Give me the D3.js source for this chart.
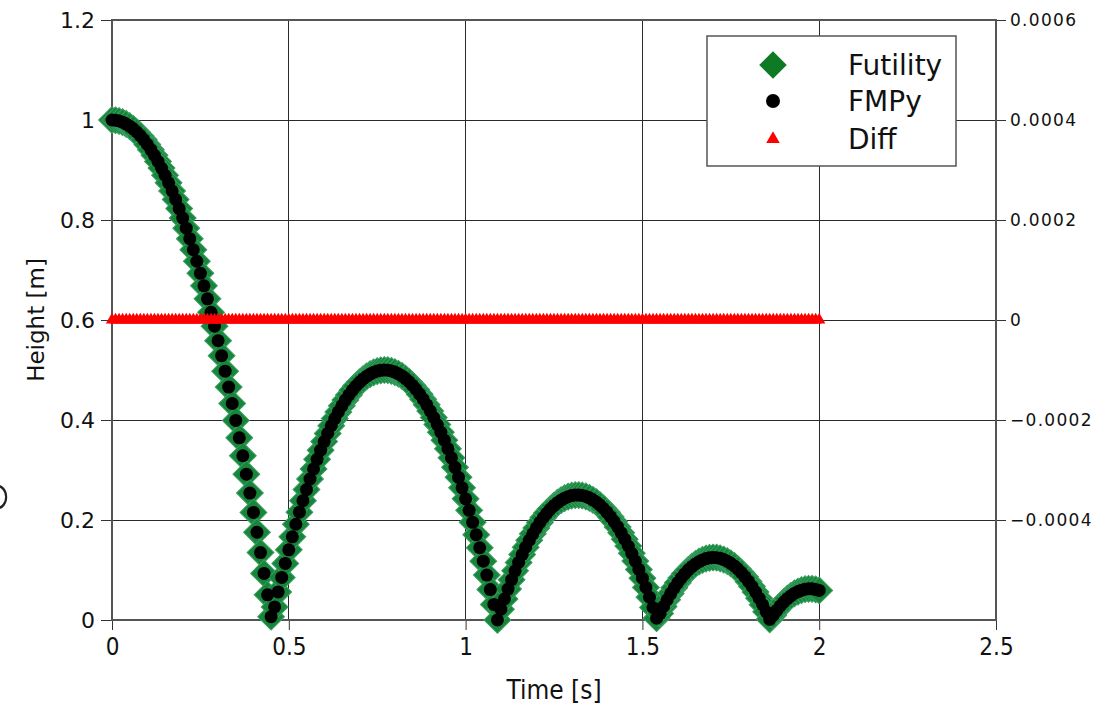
<!DOCTYPE html>
<html>
<head>
<meta charset="utf-8">
<script src="https://cdn.jsdelivr.net/npm/d3@7"></script>
<style>
  html, body { margin: 0; padding: 0; background: #fff; }
  svg { display: block; }
  text { font-family: "DejaVu Sans", "Liberation Sans", sans-serif; fill: #111; }
  .cond { font-stretch: condensed; font-family: "DejaVu Sans Condensed", "DejaVu Sans", sans-serif; }
</style>
</head>
<body>
<svg id="chart" width="1114" height="705"></svg>
<script>
// Simulation output times [s] (output interval 0.01 s)
const timeS = [
  0.00,0.01,0.02,0.03,0.04,0.05,0.06,0.07,0.08,0.09,
  0.10,0.11,0.12,0.13,0.14,0.15,0.16,0.17,0.18,0.19,
  0.20,0.21,0.22,0.23,0.24,0.25,0.26,0.27,0.28,0.29,
  0.30,0.31,0.32,0.33,0.34,0.35,0.36,0.37,0.38,0.39,
  0.40,0.41,0.42,0.43,0.44,0.45,0.46,0.47,0.48,0.49,
  0.50,0.51,0.52,0.53,0.54,0.55,0.56,0.57,0.58,0.59,
  0.60,0.61,0.62,0.63,0.64,0.65,0.66,0.67,0.68,0.69,
  0.70,0.71,0.72,0.73,0.74,0.75,0.76,0.77,0.78,0.79,
  0.80,0.81,0.82,0.83,0.84,0.85,0.86,0.87,0.88,0.89,
  0.90,0.91,0.92,0.93,0.94,0.95,0.96,0.97,0.98,0.99,
  1.00,1.01,1.02,1.03,1.04,1.05,1.06,1.07,1.08,1.09,
  1.10,1.11,1.12,1.13,1.14,1.15,1.16,1.17,1.18,1.19,
  1.20,1.21,1.22,1.23,1.24,1.25,1.26,1.27,1.28,1.29,
  1.30,1.31,1.32,1.33,1.34,1.35,1.36,1.37,1.38,1.39,
  1.40,1.41,1.42,1.43,1.44,1.45,1.46,1.47,1.48,1.49,
  1.50,1.51,1.52,1.53,1.54,1.55,1.56,1.57,1.58,1.59,
  1.60,1.61,1.62,1.63,1.64,1.65,1.66,1.67,1.68,1.69,
  1.70,1.71,1.72,1.73,1.74,1.75,1.76,1.77,1.78,1.79,
  1.80,1.81,1.82,1.83,1.84,1.85,1.86,1.87,1.88,1.89,
  1.90,1.91,1.92,1.93,1.94,1.95,1.96,1.97,1.98,1.99,
  2.00
];

// Ball height [m] reported by Futility
const heightFutility = [
  1.0000,0.9995,0.9980,0.9956,0.9922,0.9877,0.9823,0.9760,0.9686,0.9603,
  0.9510,0.9406,0.9294,0.9171,0.9039,0.8896,0.8744,0.8582,0.8411,0.8229,
  0.8038,0.7837,0.7626,0.7405,0.7175,0.6934,0.6684,0.6424,0.6154,0.5875,
  0.5586,0.5286,0.4977,0.4658,0.4330,0.3991,0.3643,0.3285,0.2917,0.2539,
  0.2152,0.1755,0.1348,0.0931,0.0504,0.0067,0.0262,0.0562,0.0852,0.1132,
  0.1403,0.1664,0.1915,0.2156,0.2387,0.2609,0.2820,0.3022,0.3214,0.3397,
  0.3569,0.3732,0.3885,0.4028,0.4161,0.4284,0.4398,0.4502,0.4596,0.4680,
  0.4754,0.4819,0.4873,0.4918,0.4953,0.4979,0.4994,0.5000,0.4996,0.4982,
  0.4958,0.4925,0.4881,0.4828,0.4765,0.4692,0.4610,0.4517,0.4415,0.4303,
  0.4181,0.4050,0.3908,0.3757,0.3596,0.3425,0.3244,0.3054,0.2853,0.2643,
  0.2423,0.2194,0.1954,0.1705,0.1445,0.1176,0.0898,0.0609,0.0311,0.0002,
  0.0215,0.0422,0.0619,0.0806,0.0984,0.1151,0.1309,0.1457,0.1595,0.1723,
  0.1842,0.1951,0.2050,0.2139,0.2218,0.2287,0.2347,0.2397,0.2437,0.2467,
  0.2488,0.2498,0.2499,0.2490,0.2471,0.2443,0.2404,0.2356,0.2298,0.2230,
  0.2153,0.2065,0.1968,0.1861,0.1744,0.1617,0.1480,0.1334,0.1178,0.1012,
  0.0836,0.0651,0.0455,0.0250,0.0035,0.0128,0.0272,0.0405,0.0529,0.0643,
  0.0747,0.0842,0.0926,0.1001,0.1066,0.1121,0.1167,0.1202,0.1228,0.1244,
  0.1250,0.1246,0.1233,0.1209,0.1176,0.1133,0.1081,0.1018,0.0946,0.0863,
  0.0771,0.0670,0.0558,0.0437,0.0305,0.0164,0.0014,0.0097,0.0194,0.0281,
  0.0358,0.0426,0.0483,0.0531,0.0569,0.0597,0.0616,0.0624,0.0623,0.0612,
  0.0591
];

// Ball height [m] reported by FMPy (identical to Futility at every output step)
const heightFMPy = heightFutility.slice();

// Difference between the two tools [m], plotted against the right axis
const heightDiff = heightFutility.map((h, i) => h - heightFMPy[i]);

const timeTicks = [0, 0.5, 1, 1.5, 2, 2.5];
const heightTicks = [0, 0.2, 0.4, 0.6, 0.8, 1, 1.2];
const diffTicks = [-0.0004, -0.0002, 0, 0.0002, 0.0004, 0.0006];
const legendLabels = ["Futility", "FMPy", "Diff"];

const W = 1114, H = 705;
const plot = { left: 112, right: 996, top: 20, bottom: 620 };

const svg = d3.select("#chart");
svg.append("rect").attr("width", W).attr("height", H).attr("fill", "#fff");

const x = d3.scaleLinear().domain([0, 2.5]).range([plot.left, plot.right]);
const y = d3.scaleLinear().domain([0, 1.2]).range([plot.bottom, plot.top]);
const yDiff = d3.scaleLinear().domain([-0.0006, 0.0006]).range([plot.bottom, plot.top]);

// Grid
const grid = svg.append("g").attr("stroke", "#2a2a2a").attr("stroke-width", 1).attr("shape-rendering", "crispEdges");
grid.selectAll("line.v").data(timeTicks.filter(t => t > 0 && t < 2.5)).join("line")
  .attr("x1", d => x(d)).attr("x2", d => x(d))
  .attr("y1", plot.top).attr("y2", plot.bottom);
grid.selectAll("line.h").data(heightTicks.filter(t => t > 0 && t < 1.2)).join("line")
  .attr("x1", plot.left).attr("x2", plot.right)
  .attr("y1", d => y(d)).attr("y2", d => y(d));

// Axes
function styleAxis(g, fontSize, cls) {
  g.select(".domain").remove();
  g.selectAll(".tick line").attr("stroke", "#333").attr("stroke-width", 1);
  g.selectAll(".tick text").attr("fill", "#111").attr("font-size", fontSize)
    .attr("font-family", null).attr("class", cls || null);
}

svg.append("g").attr("transform", `translate(${plot.left},0)`)
  .call(d3.axisLeft(y).tickValues(heightTicks).tickSize(11).tickPadding(6).tickFormat(d => String(d)))
  .call(g => styleAxis(g, 22));

svg.append("g").attr("transform", `translate(0,${plot.bottom})`)
  .call(d3.axisBottom(x).tickValues(timeTicks).tickSize(10).tickPadding(8).tickFormat(d => String(d)))
  .call(g => styleAxis(g, 24, "cond"));

const diffFormat = d => d === 0 ? "0" : (d < 0 ? "\u2212" : "") + Math.abs(d).toFixed(4);
svg.append("g").attr("transform", `translate(${plot.right},0)`)
  .call(d3.axisRight(yDiff).tickValues(diffTicks).tickSize(10).tickPadding(4).tickFormat(diffFormat))
  .call(g => styleAxis(g, 17))
  .call(g => g.selectAll(".tick text").attr("letter-spacing", 1.3));

// Frame
svg.append("rect")
  .attr("x", plot.left).attr("y", plot.top)
  .attr("width", plot.right - plot.left).attr("height", plot.bottom - plot.top)
  .attr("fill", "none").attr("stroke", "#555").attr("stroke-width", 2);

// Axis titles
svg.append("text")
  .attr("transform", `translate(44,${(plot.top + plot.bottom) / 2}) rotate(-90)`)
  .attr("text-anchor", "middle").attr("font-size", 23).text("Height [m]");
svg.append("text").attr("class", "cond")
  .attr("x", (plot.left + plot.right) / 2).attr("y", 699)
  .attr("text-anchor", "middle").attr("font-size", 26).text("Time [s]");

// Edge fragment of a neighbouring panel's glyph at the left border
svg.append("path")
  .attr("d", d3.arc()({ innerRadius: 9.5, outerRadius: 12, startAngle: 0, endAngle: Math.PI }))
  .attr("transform", "translate(-3,497) scale(0.85,1.05)")
  .attr("fill", "#222");

// Series markers
const diamond = d3.symbol(d3.symbolSquare, 360)();
const circleR = 6.5;
const triangle = d3.symbol(d3.symbolTriangle, 66)();
const pts = timeS.map((t, i) => ({ t, f: heightFutility[i], m: heightFMPy[i], d: heightDiff[i] }));

const diamondColor = "#17853a";
svg.append("g").selectAll("path").data(pts).join("path")
  .attr("d", diamond)
  .attr("transform", p => `translate(${x(p.t)},${y(p.f)}) rotate(45)`)
  .attr("fill", diamondColor).attr("stroke", "#3a9e62").attr("stroke-width", 1);

svg.append("g").selectAll("circle").data(pts).join("circle")
  .attr("cx", p => x(p.t)).attr("cy", p => y(p.m)).attr("r", circleR).attr("fill", "#000");

svg.append("g").selectAll("path").data(pts).join("path")
  .attr("d", triangle)
  .attr("transform", p => `translate(${x(p.t)},${yDiff(p.d)})`)
  .attr("fill", "#ff0000");

// Legend
const lg = svg.append("g");
lg.append("rect").attr("x", 707).attr("y", 36).attr("width", 249).attr("height", 130)
  .attr("fill", "#fff").attr("stroke", "#555").attr("stroke-width", 1.5);
const rows = [65, 101, 139];
lg.append("path").attr("d", d3.symbol(d3.symbolSquare, 380)())
  .attr("transform", `translate(773,${rows[0]}) rotate(45)`).attr("fill", "#0e7a24");
lg.append("circle").attr("cx", 773).attr("cy", rows[1]).attr("r", 7).attr("fill", "#000");
lg.append("path").attr("d", d3.symbol(d3.symbolTriangle, 80)())
  .attr("transform", `translate(773,${rows[2]})`).attr("fill", "#ff0000");
lg.selectAll("text").data(legendLabels).join("text")
  .attr("x", 848).attr("y", (d, i) => rows[i] + 10)
  .attr("font-size", 28).text(d => d);
</script>
</body>
</html>
